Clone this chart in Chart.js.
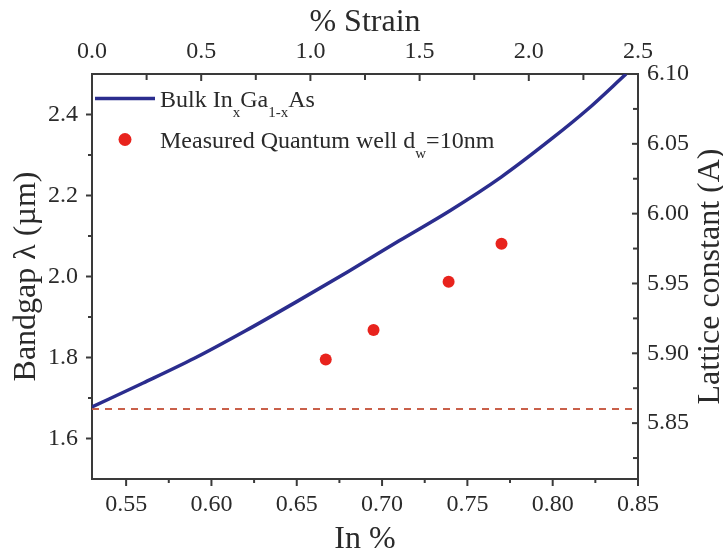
<!DOCTYPE html>
<html>
<head>
<meta charset="utf-8">
<script src="https://cdn.jsdelivr.net/npm/chart.js@4.4.1/dist/chart.umd.min.js"></script>
<style>
  html, body { margin: 0; padding: 0; background: #fff; }
  #wrap { position: relative; width: 723px; height: 552px; }
</style>
</head>
<body>
<div id="wrap"><canvas id="chart"></canvas></div>
<script>
// values
const inContent   = [0.53, 0.56, 0.59, 0.62, 0.65, 0.68, 0.71, 0.74, 0.77, 0.80, 0.82, 0.843];
const bulkBandgap = [1.678, 1.737, 1.798, 1.866, 1.938, 2.012, 2.088, 2.163, 2.246, 2.342, 2.411, 2.50];
const qwIn        = [0.667, 0.695, 0.739, 0.770];
const qwBandgap   = [1.795, 1.868, 1.987, 2.081];
const matchIn     = [0.53, 0.85];
const matchLevel  = [1.673, 1.673];

// tick positions
const inTicks       = [0.55, 0.60, 0.65, 0.70, 0.75, 0.80, 0.85];
const inMinor       = [0.575, 0.625, 0.675, 0.725, 0.775, 0.825];
const strainTicks   = [0.0, 0.5, 1.0, 1.5, 2.0, 2.5];
const strainMinor   = [0.25, 0.75, 1.25, 1.75, 2.25];
const bandgapTicks  = [1.6, 1.8, 2.0, 2.2, 2.4];
const bandgapMinor  = [1.7, 1.9, 2.1, 2.3];
const latticeTicks  = [5.85, 5.90, 5.95, 6.00, 6.05, 6.10];
const latticeMinor  = [5.825, 5.875, 5.925, 5.975, 6.025, 6.075];

const NAVY = '#2b2d8e';
const RED = '#e8231d';
const DASH = '#c9604a';
const AXIS = '#3a3a3a';
const TEXT = '#2a2a2a';
const SERIF = "'Liberation Serif', 'DejaVu Serif', serif";

const fixTicks = vals => scale => { scale.ticks = vals.map(v => ({ value: v })); };

// Origin-style tick marks: left/bottom outward, top/right inward
const frameTicks = {
  id: 'frameTicks',
  afterDraw(chart) {
    const { ctx, chartArea: a, scales } = chart;
    ctx.save();
    ctx.strokeStyle = AXIS;
    ctx.lineWidth = 2;
    const seg = (x1, y1, x2, y2) => { ctx.beginPath(); ctx.moveTo(x1, y1); ctx.lineTo(x2, y2); ctx.stroke(); };
    const xs = (s, vals, y, len) => vals.forEach(v => { const p = s.getPixelForValue(v); seg(p, y, p, y + len); });
    const ys = (s, vals, x, len) => vals.forEach(v => { const p = s.getPixelForValue(v); seg(x, p, x + len, p); });
    xs(scales.x, inTicks, a.bottom, 7);
    xs(scales.x, inMinor, a.bottom, 4);
    xs(scales.x2, strainTicks, a.top, 7);
    xs(scales.x2, strainMinor, a.top, 6);
    ys(scales.y, bandgapTicks, a.left, -6);
    ys(scales.y, bandgapMinor, a.left, -4);
    ys(scales.y2, latticeTicks, a.right, -6);
    ys(scales.y2, latticeMinor, a.right, -5);

    // right axis title, reads bottom to top
    ctx.fillStyle = TEXT;
    ctx.font = '32px ' + SERIF;
    ctx.textAlign = 'center';
    ctx.textBaseline = 'alphabetic';
    ctx.translate(719, (a.top + a.bottom) / 2);
    ctx.rotate(-Math.PI / 2);
    ctx.fillText('Lattice constant (A)', 0, 0);
    ctx.restore();
  }
};

// legend with subscripts
const subLegend = {
  id: 'subLegend',
  afterDraw(chart) {
    const ctx = chart.ctx;
    ctx.save();
    ctx.fillStyle = TEXT;
    ctx.textBaseline = 'alphabetic';
    ctx.textAlign = 'left';
    const run = (parts, x, y) => {
      parts.forEach(([t, sub]) => {
        ctx.font = (sub ? '15px ' : '24px ') + SERIF;
        ctx.fillText(t, x, sub ? y + 10 : y);
        x += ctx.measureText(t).width;
      });
    };
    ctx.strokeStyle = NAVY;
    ctx.lineWidth = 3.5;
    ctx.beginPath(); ctx.moveTo(95, 98.5); ctx.lineTo(155, 98.5); ctx.stroke();
    run([['Bulk In'], ['x', 1], ['Ga'], ['1-x', 1], ['As']], 160, 107);
    ctx.fillStyle = RED;
    ctx.beginPath(); ctx.arc(125, 139.5, 6.5, 0, Math.PI * 2); ctx.fill();
    ctx.fillStyle = TEXT;
    run([['Measured Quantum well d'], ['w', 1], ['=10nm']], 160, 147.5);
    ctx.restore();
  }
};

const tickFont = { family: SERIF, size: 24 };
const titleFont = { family: SERIF, size: 32 };
const border = { display: true, color: AXIS, width: 2 };

new Chart(document.getElementById('chart'), {
  type: 'line',
  data: {
    datasets: [
      {
        label: 'Bulk InxGa1-xAs',
        data: inContent.map((x, i) => ({ x, y: bulkBandgap[i] })),
        borderColor: NAVY,
        borderWidth: 3.5,
        pointRadius: 0,
        cubicInterpolationMode: 'monotone',
        yAxisID: 'y'
      },
      {
        label: 'Measured Quantum well dw=10nm',
        data: qwIn.map((x, i) => ({ x, y: qwBandgap[i] })),
        showLine: false,
        pointRadius: 6,
        pointBackgroundColor: RED,
        pointBorderWidth: 0,
        yAxisID: 'y'
      },
      {
        label: 'lattice matched',
        data: matchIn.map((x, i) => ({ x, y: matchLevel[i] })),
        borderColor: DASH,
        borderWidth: 2,
        borderDash: [7, 6],
        pointRadius: 0,
        yAxisID: 'y'
      }
    ]
  },
  options: {
    responsive: true,
    maintainAspectRatio: false,
    animation: false,
    layout: { padding: 0 },
    plugins: { legend: { display: false }, tooltip: { enabled: false } },
    scales: {
      x: {
        type: 'linear', position: 'bottom', min: 0.53, max: 0.85,
        afterBuildTicks: fixTicks(inTicks),
        afterFit: s => { s.height = 73; },
        grid: { display: false, drawTicks: false },
        border,
        ticks: { font: tickFont, color: TEXT, padding: 11, maxRotation: 0, callback: v => v.toFixed(2) },
        title: { display: true, text: 'In %', font: { ...titleFont, lineHeight: 0.8 }, color: TEXT, padding: 0 }
      },
      x2: {
        type: 'linear', position: 'top', min: 0, max: 2.5,
        afterBuildTicks: fixTicks(strainTicks),
        afterFit: s => { s.height = 74; },
        grid: { display: false, drawTicks: false },
        border,
        ticks: { font: tickFont, color: TEXT, padding: 8, maxRotation: 0, callback: v => v.toFixed(1) },
        title: { display: true, text: '% Strain', font: titleFont, color: TEXT, padding: { top: 3 } }
      },
      y: {
        type: 'linear', position: 'left', min: 1.5, max: 2.5,
        afterBuildTicks: fixTicks(bandgapTicks),
        afterFit: s => { s.width = 92; },
        grid: { display: false, drawTicks: false },
        border,
        ticks: { font: tickFont, color: TEXT, padding: 14, callback: v => v.toFixed(1) },
        title: { display: true, text: 'Bandgap λ (µm)', font: titleFont, color: TEXT, padding: { top: 7 } }
      },
      y2: {
        type: 'linear', position: 'right', min: 5.81, max: 6.10,
        afterBuildTicks: fixTicks(latticeTicks),
        afterFit: s => { s.width = 85; },
        grid: { display: false, drawTicks: false },
        border,
        ticks: { font: tickFont, color: TEXT, padding: 9, callback: v => v.toFixed(2) }
      }
    }
  },
  plugins: [frameTicks, subLegend]
});
</script>
</body>
</html>
